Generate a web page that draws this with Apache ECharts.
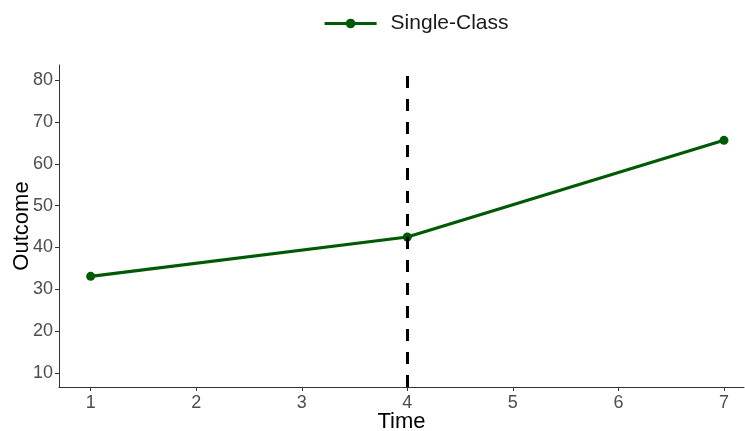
<!DOCTYPE html>
<html><head><meta charset="utf-8">
<script src="https://cdn.jsdelivr.net/npm/echarts@6/dist/echarts.min.js"></script>
<style>html,body{margin:0;padding:0;background:#fff}#c{width:745px;height:431px}</style>
</head><body><div id="c"></div>
<script>
const times = [1, 4, 7];
const outcomes = [33.1, 42.5, 65.6];
const seriesName = 'Single-Class';
const xTicks = [1, 2, 3, 4, 5, 6, 7];
const yTicks = [10, 20, 30, 40, 50, 60, 70, 80];
const cutTime = 4;

const chart = echarts.init(document.getElementById('c'));
const font = 'Liberation Sans, Arial, Helvetica, sans-serif';
chart.setOption({
  animation: false,
  textStyle: { fontFamily: font },
  legend: {
    top: 8, left: 318,
    itemWidth: 52, itemHeight: 12, itemGap: 10,
    lineStyle: { width: 3.2 },
    textStyle: { fontSize: 21, color: '#1a1a1a', fontFamily: font, padding: [0, 0, 0, 9] },
    data: [seriesName]
  },
  grid: { left: 59, right: 1, top: 65, bottom: 44, containLabel: false, outerBoundsMode: 'none' },
  xAxis: {
    type: 'value', min: 0.7, max: 7.19,
    name: 'Time', nameLocation: 'middle', nameGap: 24, nameMoveOverlap: false,
    nameTextStyle: { fontSize: 22, color: '#000', fontFamily: font },
    axisLine: { show: true, onZero: false, lineStyle: { color: '#333', width: 1 } },
    axisTick: { show: true, length: 4, customValues: xTicks, lineStyle: { color: '#333' } },
    axisLabel: { customValues: xTicks, fontSize: 18, color: '#4d4d4d', margin: 7, fontFamily: font },
    splitLine: { show: false }
  },
  yAxis: {
    type: 'value', min: 6.66, max: 83.6,
    name: 'Outcome', nameLocation: 'middle', nameGap: 26, nameRotate: 90, nameMoveOverlap: false,
    nameTextStyle: { fontSize: 22, color: '#000', fontFamily: font },
    axisLine: { show: true, onZero: false, lineStyle: { color: '#333', width: 1 } },
    axisTick: { show: true, length: 4, customValues: yTicks, lineStyle: { color: '#333' } },
    axisLabel: { customValues: yTicks, fontSize: 18, color: '#4d4d4d', margin: 6, fontFamily: font },
    splitLine: { show: false }
  },
  series: [{
    name: seriesName, type: 'line',
    data: times.map((t, i) => [t, outcomes[i]]),
    symbol: 'circle', symbolSize: 9,
    lineStyle: { color: '#005a05', width: 3.2 },
    itemStyle: { color: '#005a05' },
    markLine: {
      silent: true, symbol: 'none', label: { show: false },
      lineStyle: { color: '#000', width: 3, type: [12, 11] },
      data: [{ xAxis: cutTime }]
    }
  }]
});
</script></body></html>
